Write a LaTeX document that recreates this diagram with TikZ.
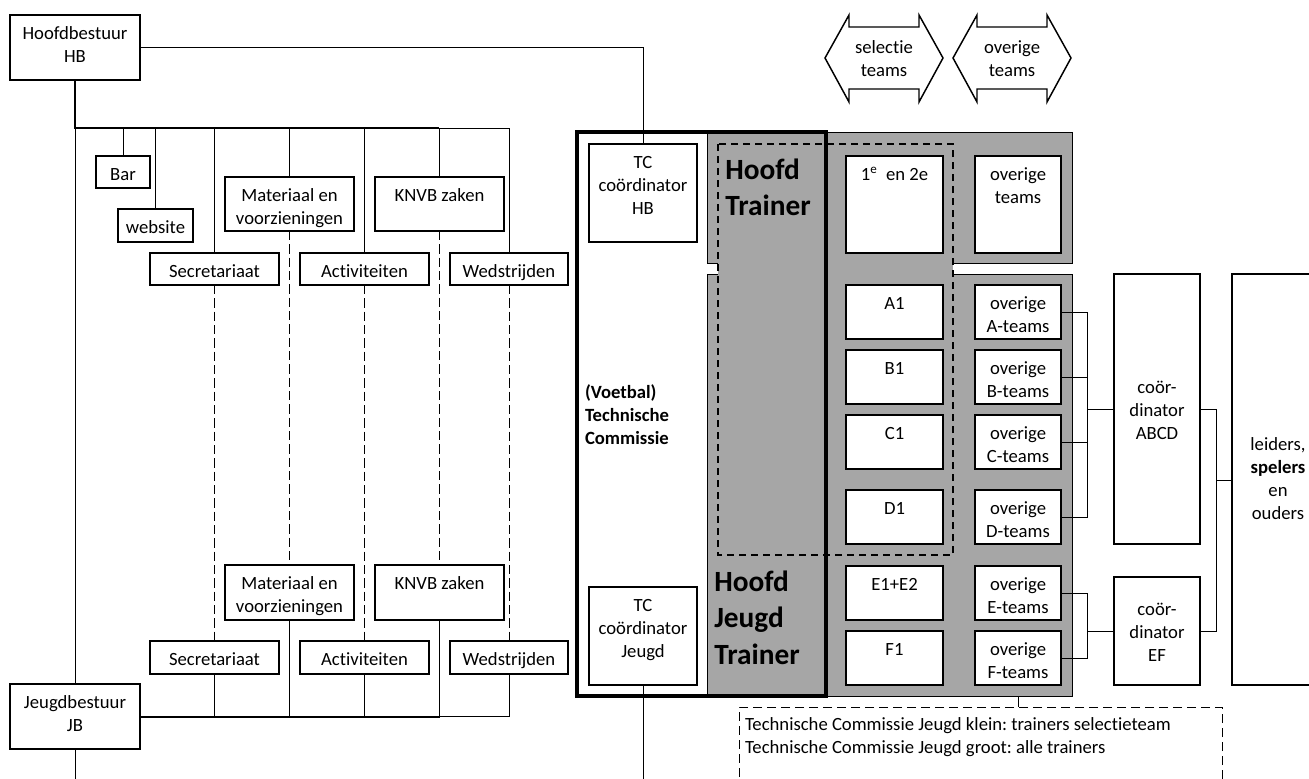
\documentclass[tikz,border=0pt]{standalone}
\usepackage{fontspec}
\setmainfont{Carlito}[Ligatures=CommonOff]
\frenchspacing
\usetikzlibrary{fit}
\definecolor{tgray}{HTML}{A6A6A6}
\tikzset{
  x=0.75pt, y=-0.75pt,
  obox/.style={draw, line width=1.1pt, fill=white, inner sep=0pt, outer sep=0pt},
  txt/.style={font=\fontsize{14}{17.25}\selectfont, align=center, inner sep=0pt, outer sep=0pt},
  conn/.style={line width=0.75pt},
  bus/.style={line width=1.5pt},
  dconn/.style={line width=0.75pt, dash pattern=on 7pt off 3pt},
  bigtxt/.style={font=\fontsize{22}{27.6}\selectfont\bfseries, align=left, inner sep=0pt, anchor=north west},
}
\newcommand\mybox[6]{%
  \node[obox, fit={(#2,#3) (#4,#5)}] (#1) {};
  \node[txt, anchor=north] (#1-t) at ([yshift=-6.4pt]#1.north) {\strut #6};}
\begin{document}
\begin{tikzpicture}
\useasboundingbox (0,0) rectangle (1309,778);
\fill[white] (0,0) rectangle (1309,778);
\clip (0,0) rectangle (1309,778);

% ---------- left organisation ----------
\mybox{HB}{10}{15}{140}{80}{Hoofdbestuur\\HB}
\mybox{Bar}{96}{156}{150}{188}{Bar}
\mybox{web}{118}{209}{193}{242}{website}
\mybox{MatA}{225}{177}{354}{231}{Materiaal en\\voorzieningen}
\mybox{KnvA}{375}{177}{504}{231}{KNVB zaken}
\mybox{SecA}{150}{253}{279}{285}{Secretariaat}
\mybox{ActA}{300}{253}{429}{285}{Activiteiten}
\mybox{WedA}{450}{253}{568}{285}{Wedstrijden}

\mybox{MatB}{225}{565}{354}{620}{Materiaal en\\voorzieningen}
\mybox{KnvB}{375}{565}{504}{620}{KNVB zaken}
\mybox{SecB}{150}{641}{279}{674}{Secretariaat}
\mybox{ActB}{300}{641}{429}{674}{Activiteiten}
\mybox{WedB}{450}{641}{568}{674}{Wedstrijden}
\mybox{JB}{10}{684}{140}{749}{Jeugdbestuur\\JB}

\coordinate (busT) at (75,128);
\coordinate (busTk) at (439,128);
\draw[bus] (HB.south) -- (busT) -- (busTk);
\draw[conn] (busTk) -- (WedA.north |- busT);
\draw[conn] (busT) -- (JB.north);
\foreach \n in {Bar,web,SecA,MatA,ActA,KnvA,WedA}
  \draw[conn] (\n.north) -- (\n.north |- busT);
\foreach \a/\b in {SecA/SecB,MatA/MatB,ActA/ActB,KnvA/KnvB,WedA/WedB}
  \draw[dconn] (\a.south) -- (\b.north);
\draw[bus] (JB.east) -- (KnvB.south |- JB.east);
\draw[conn] (KnvB.south |- JB.east) -- (WedB.south |- JB.east);
\foreach \n in {SecB,MatB,ActB,KnvB,WedB}
  \draw[conn] (\n.south) -- (\n.south |- JB.east);
\coordinate (endJB) at (75,790);
\draw[conn] (JB.south) -- (endJB);

% ---------- technical committee ----------
\draw[conn, fill=tgray] (707,132) rectangle (1072,263);
\draw[conn, fill=tgray] (707,274) rectangle (1072,696);
\draw[line width=1.1pt, fill=tgray, dash pattern=on 5.25pt off 3.75pt] (718,144) rectangle (953,555);

\mybox{T12}{846}{156}{943}{253}{1\textsuperscript{e}\ \ en 2e}
\mybox{Tov}{975}{156}{1061}{253}{overige\\teams}
\mybox{A1}{846}{285}{943}{339}{A1}
\mybox{oA}{975}{285}{1061}{339}{overige\\A-teams}
\mybox{B1}{846}{350}{943}{404}{B1}
\mybox{oB}{975}{350}{1061}{404}{overige\\B-teams}
\mybox{C1}{846}{415}{943}{469}{C1}
\mybox{oC}{975}{415}{1061}{469}{overige\\C-teams}
\mybox{D1}{846}{490}{943}{544}{D1}
\mybox{oD}{975}{490}{1061}{544}{overige\\D-teams}
\mybox{E1}{846}{566}{943}{620}{E1+E2}
\mybox{oE}{975}{566}{1061}{620}{overige\\E-teams}
\mybox{F1}{846}{631}{943}{685}{F1}
\mybox{oF}{975}{631}{1061}{685}{overige\\F-teams}

\mybox{TCHB}{589}{144}{697}{242}{TC\\coördinator\\HB}
\mybox{TCJ}{589}{587}{697}{685}{TC\\coördinator\\Jeugd}
\draw[conn] (HB.east) -| (TCHB.north);
\coordinate (endTC) at (643,790);
\draw[conn] (TCJ.south) -- (endTC);

\draw[line width=3pt] (577,132) rectangle (826,696);

\node[txt, font=\fontsize{14}{17.4}\selectfont\bfseries, align=left, anchor=north west] (vtc) at (585,382) {\strut (Voetbal)\\Technische\\Commissie};
\node[bigtxt] (HT) at (725,153) {\strut Hoofd\\Trainer};
\node[bigtxt] (HJT) at (714,565) {\strut Hoofd\\Jeugd\\Trainer};

% ---------- coordinators ----------
\node[obox, fit={(1114,274) (1200,544)}] (cABCD) {};
\node[txt, anchor=north] (cABCD-t) at (1157,377) {\strut coör-\\dinator\\ABCD};
\node[obox, fit={(1114,577) (1200,685)}] (cEF) {};
\node[txt, anchor=north] (cEF-t) at (1157,599) {\strut coör-\\dinator\\EF};
\node[obox, fit={(1232,274) (1324,685)}] (leid) {};
\node[txt, anchor=north] (leid-t) at (1278,434) {\strut leiders,\\\textbf{spelers}\\en\\ouders};

\coordinate (vABCD) at (1087,409);
\draw[conn] (oA.east) -| (vABCD);
\draw[conn] (oD.east) -| (vABCD);
\draw[conn] (oB.east) -- (oB.east -| vABCD);
\draw[conn] (oC.east) -- (oC.east -| vABCD);
\draw[conn] (vABCD) -- (cABCD.west |- vABCD);
\coordinate (vEF) at (1087,631);
\draw[conn] (oE.east) -| (vEF);
\draw[conn] (oF.east) -| (vEF);
\draw[conn] (vEF) -- (cEF.west);
\coordinate (vL) at (1216,480);
\draw[conn] (cABCD.east) -| (vL);
\draw[conn] (cEF.east) -| (vL);
\draw[conn] (vL) -- (leid.west |- vL);

% ---------- top arrows ----------
\draw[line width=1.1pt, fill=white] (825,58) -- (849,15) -- (849,27) -- (919,27) -- (919,15) -- (943,58) -- (919,102) -- (919,89) -- (849,89) -- (849,102) -- cycle;
\node[txt, anchor=north] (selT) at (884,37) {\strut selectie\\teams};
\draw[line width=1.1pt, fill=white] (953,58) -- (977,15) -- (977,27) -- (1047,27) -- (1047,15) -- (1071,58) -- (1047,102) -- (1047,89) -- (977,89) -- (977,102) -- cycle;
\node[txt, anchor=north] (ovT) at (1012,37) {\strut overige\\teams};

% ---------- bottom dashed note ----------
\node[draw, line width=0.75pt, dash pattern=on 6.75pt off 3.75pt, inner sep=0pt, fit={(739,707) (1222,800)}] (dbox) {};
\node[txt, align=left, anchor=north west] (dtext) at (745,714) {\strut Technische Commissie Jeugd klein: trainers selectieteam\\Technische Commissie Jeugd groot: alle trainers};
\coordinate (tk) at (1018,696);
\draw[conn] (tk) -- (tk |- dbox.north);
\end{tikzpicture}
\end{document}
